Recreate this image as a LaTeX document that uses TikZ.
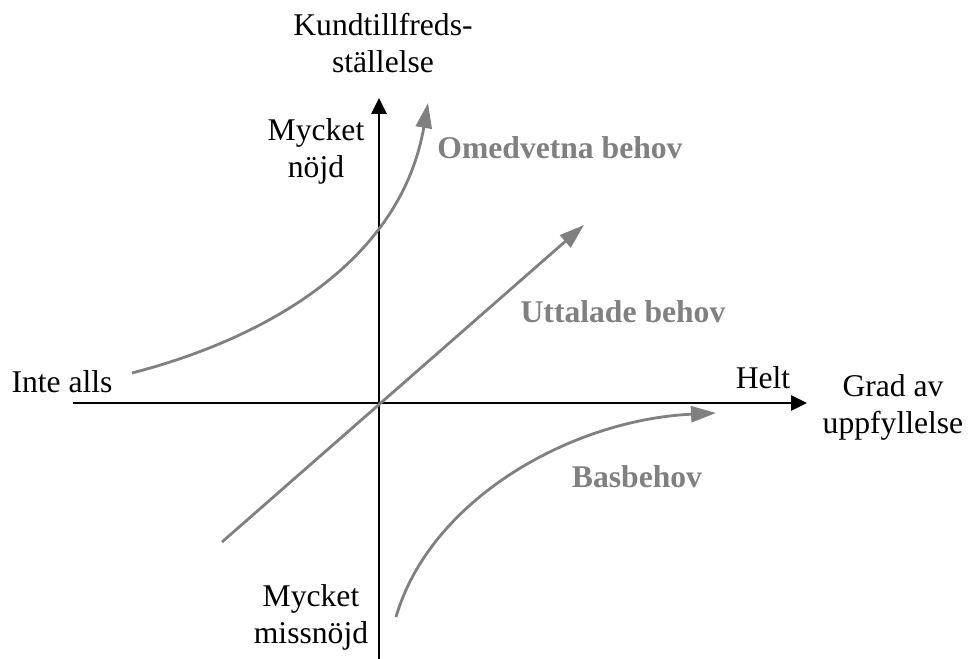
\documentclass[tikz,border=0pt]{standalone}
\usepackage{fontspec}
\setmainfont{Liberation Serif}
\usetikzlibrary{arrows.meta}
\definecolor{curvegray}{RGB}{128,128,128}
\begin{document}
\begin{tikzpicture}[x=0.02cm,y=-0.02cm,
  axis/.style={line width=1.5pt, -{Triangle[length=0.32cm,width=0.3cm]}},
  curve/.style={curvegray, line width=1.6pt, -{Triangle[length=0.5cm,width=0.32cm]}},
  lbl/.style={font=\fontsize{18pt}{21pt}\selectfont, inner sep=0pt, anchor=base, align=center},
  glbl/.style={lbl, font=\fontsize{18pt}{21pt}\selectfont\bfseries, text=curvegray}]
\useasboundingbox (0,0) rectangle (968,659);
% axes
\coordinate (hs) at (73,403);
\coordinate (he) at (807,403);
\coordinate (vs) at (379,659);
\coordinate (ve) at (379,98);
\draw[axis] (hs) -- (he);
\draw[axis] (vs) -- (ve);
% curves
\coordinate (us) at (132,373);
\coordinate (ue) at (428,103);
\draw[curve] (us) .. controls (260,340) and (400,265) .. (ue);
\coordinate (ds) at (222,542);
\coordinate (de) at (584,225);
\draw[curve] (ds) -- (de);
\coordinate (ls) at (396,617);
\coordinate (le) at (716,413);
\draw[curve] (ls) .. controls (430,500) and (570,420) .. (le);
% labels (base = baseline of the last line)
\node[lbl] (ylab) at (383,72) {Kundtillfreds-\\ställelse};
\node[lbl] (ytop) at (316,177) {Mycket\\nöjd};
\node[lbl] (ybot) at (311,643) {Mycket\\missnöjd};
\node[lbl] (xl) at (62,392) {Inte alls};
\node[lbl] (xr) at (763,388) {Helt};
\node[lbl] (xlab) at (893,433) {Grad av\\uppfyllelse};
\node[glbl] (omed) at (560,158) {Omedvetna behov};
\node[glbl] (utt) at (623,322) {Uttalade behov};
\node[glbl] (bas) at (637,487) {Basbehov};
\end{tikzpicture}
\end{document}
